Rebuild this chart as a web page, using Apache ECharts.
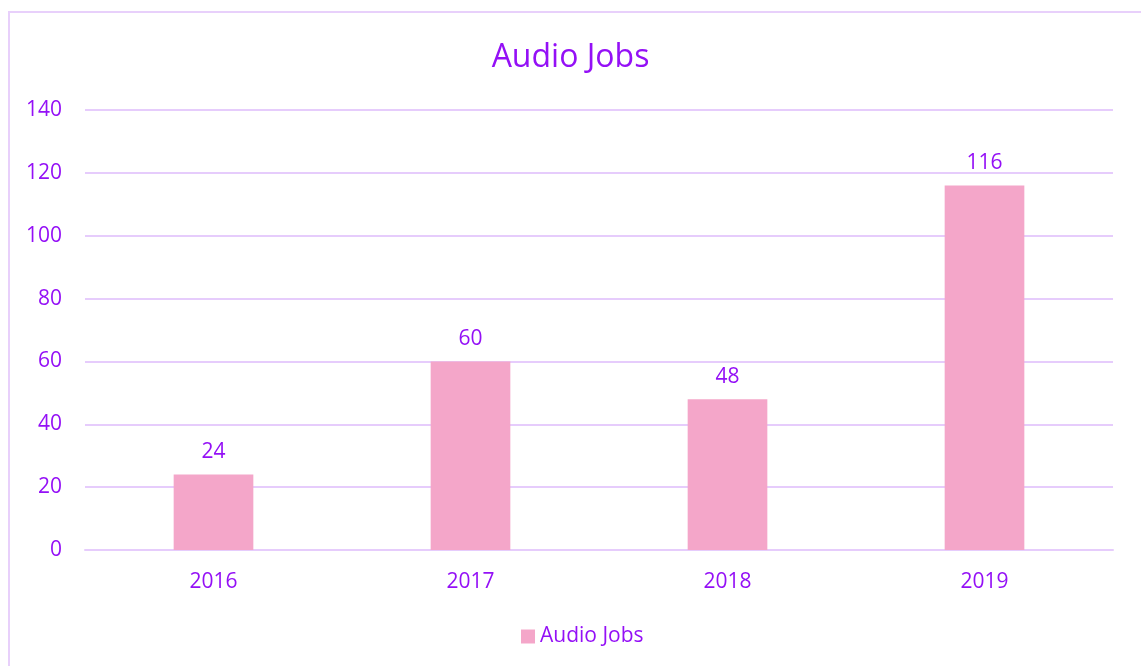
<!DOCTYPE html>
<html>
<head>
<meta charset="utf-8">
<script src="https://cdn.jsdelivr.net/npm/echarts@6/dist/echarts.min.js"></script>
<style>
  html, body { margin: 0; padding: 0; background: #ffffff; }
  #frame { position: absolute; left: 8px; top: 11px; width: 1200px; height: 700px;
           border: 2px solid #e8d0fb; box-sizing: border-box; }
  #chart { position: absolute; left: 0; top: 0; width: 1141px; height: 666px; }
</style>
</head>
<body>
<div id="frame"></div>
<div id="chart"></div>
<script>
// Yearly count of audio jobs
const years = ['2016', '2017', '2018', '2019'];
const audioJobs = [24, 60, 48, 116];
const seriesName = 'Audio Jobs';

const textPurple = '#9410f6';
const gridLilac = '#e6ccfc';
const barPink = '#f4a6c9';
const font = 'Open Sans, Noto Sans, sans-serif';

const chart = echarts.init(document.getElementById('chart'), null, { renderer: 'canvas' });
chart.setOption({
  animation: false,
  title: {
    text: 'Audio Jobs',
    left: 'center',
    top: 37,
    textStyle: { color: textPurple, fontSize: 32, fontWeight: 'normal', fontFamily: font }
  },
  legend: {
    data: [seriesName],
    bottom: 14,
    left: 516,
    icon: 'rect',
    itemWidth: 14,
    itemHeight: 14,
    itemGap: 6,
    textStyle: { color: textPurple, fontSize: 21, fontFamily: font }
  },
  grid: { left: 85, right: 28, top: 110, bottom: 116, containLabel: false },
  xAxis: {
    type: 'category',
    data: years,
    axisLine: { show: true, lineStyle: { color: gridLilac, width: 2 } },
    axisTick: { show: false },
    axisLabel: { color: textPurple, fontSize: 21, fontFamily: font, margin: 22 }
  },
  yAxis: {
    type: 'value',
    min: 0,
    max: 140,
    interval: 20,
    axisLine: { show: false },
    axisTick: { show: false },
    splitLine: { lineStyle: { color: gridLilac, width: 2 } },
    axisLabel: { color: textPurple, fontSize: 21, fontFamily: font, margin: 23, padding: [4, 0, 0, 0] }
  },
  series: [{
    name: seriesName,
    type: 'bar',
    data: audioJobs,
    barWidth: '31%',
    itemStyle: { color: barPink },
    label: {
      show: true,
      position: 'top',
      distance: 12,
      color: textPurple,
      fontSize: 21,
      fontFamily: font
    }
  }]
});
</script>
</body>
</html>
